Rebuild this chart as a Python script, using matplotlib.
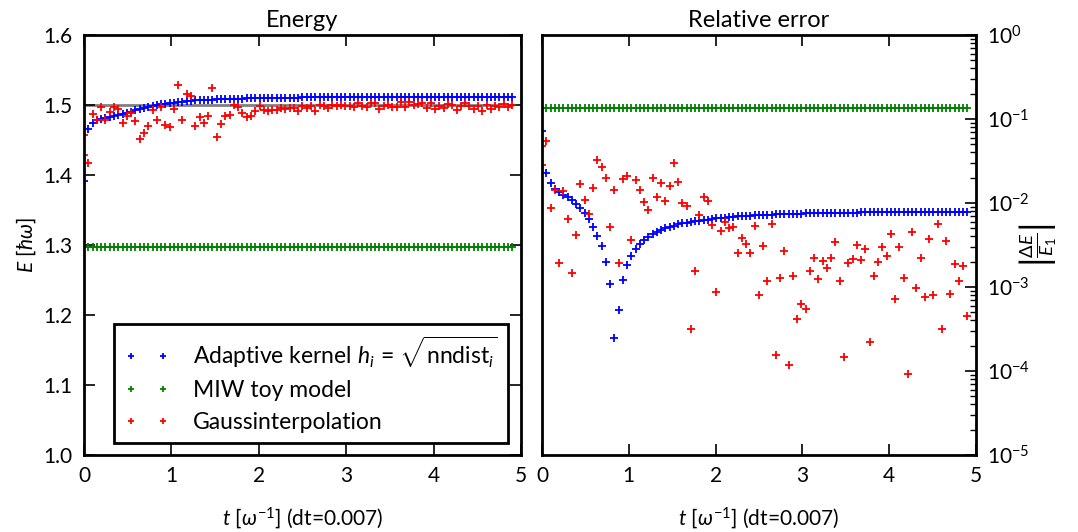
import numpy as np
import matplotlib
matplotlib.use("Agg")
import matplotlib.pyplot as plt
from matplotlib.ticker import LogLocator, NullFormatter

plt.rcParams['font.family'] = ['Lato', 'DejaVu Sans']
plt.rcParams['mathtext.fontset'] = 'custom'
plt.rcParams['mathtext.rm'] = 'Lato'
plt.rcParams['mathtext.it'] = 'Lato:italic'
plt.rcParams['mathtext.bf'] = 'Lato:bold'

# time grid: dt = 0.007, every 7th step stored
DT = 0.007
STRIDE = 7
N = 101
t = np.arange(N) * DT * STRIDE

E_EXACT = 1.5

# adaptive kernel h_i = sqrt(nndist_i)
adaptive_energy = [
    1.3910, 1.4658, 1.4743, 1.4780, 1.4799, 1.4813, 1.4825, 1.4837, 1.4853, 1.4869,
    1.4887, 1.4904, 1.4922, 1.4939, 1.4954, 1.4970, 1.49835, 1.49963, 1.50080, 1.50183,
    1.50275, 1.50354, 1.50429, 1.50492, 1.50549, 1.50596, 1.50647, 1.50684, 1.50723, 1.50756,
    1.50785, 1.50806, 1.50836, 1.50860, 1.50875, 1.50891, 1.50908, 1.50924, 1.50933, 1.50951,
    1.50968, 1.50982, 1.50995, 1.51007, 1.51018, 1.51028, 1.51037, 1.51046, 1.51054, 1.51062,
    1.51069, 1.51076, 1.51082, 1.51088, 1.51094, 1.51099, 1.51104, 1.51109, 1.51113, 1.51117,
    1.51121, 1.51125, 1.51128, 1.51131, 1.51134, 1.51137, 1.51140, 1.51142, 1.51144, 1.51146,
    1.51148, 1.51150, 1.51152, 1.51154, 1.51155, 1.51157, 1.51158, 1.51159, 1.51160, 1.51161,
    1.51162, 1.51163, 1.51164, 1.51165, 1.51166, 1.51166, 1.51167, 1.51168, 1.51168, 1.51169,
    1.51169, 1.51170, 1.51170, 1.51171, 1.51171, 1.51171, 1.51172, 1.51172, 1.51172, 1.51173,
    1.51173,
]

# MIW toy model
miw_energy = [
    1.297, 1.297, 1.297, 1.297, 1.297, 1.297, 1.297, 1.297, 1.297, 1.297,
    1.297, 1.297, 1.297, 1.297, 1.297, 1.297, 1.297, 1.297, 1.297, 1.297,
    1.297, 1.297, 1.297, 1.297, 1.297, 1.297, 1.297, 1.297, 1.297, 1.297,
    1.297, 1.297, 1.297, 1.297, 1.297, 1.297, 1.297, 1.297, 1.297, 1.297,
    1.297, 1.297, 1.297, 1.297, 1.297, 1.297, 1.297, 1.297, 1.297, 1.297,
    1.297, 1.297, 1.297, 1.297, 1.297, 1.297, 1.297, 1.297, 1.297, 1.297,
    1.297, 1.297, 1.297, 1.297, 1.297, 1.297, 1.297, 1.297, 1.297, 1.297,
    1.297, 1.297, 1.297, 1.297, 1.297, 1.297, 1.297, 1.297, 1.297, 1.297,
    1.297, 1.297, 1.297, 1.297, 1.297, 1.297, 1.297, 1.297, 1.297, 1.297,
    1.297, 1.297, 1.297, 1.297, 1.297, 1.297, 1.297, 1.297, 1.297, 1.297,
    1.297,
]

# Gaussinterpolation (two samples stored at t = 0)
gauss_t = np.concatenate([[0.0], t])
gauss_energy = [
    1.4575, 1.4280, 1.4172, 1.48681, 1.47857, 1.49713, 1.47915, 1.4904, 1.49778, 1.49382,
    1.4745, 1.48386, 1.4889, 1.47714, 1.4517, 1.45935, 1.47021, 1.49223, 1.47876, 1.49708,
    1.47129, 1.46888, 1.49456, 1.52793, 1.47876, 1.51529, 1.51248, 1.47021, 1.48233, 1.47381,
    1.4840, 1.5241, 1.4547, 1.47333, 1.48487, 1.48632, 1.499526, 1.497675, 1.48911, 1.48245,
    1.4840, 1.4918, 1.498703, 1.49302, 1.49116, 1.49244, 1.4923, 1.496154, 1.49431, 1.495123,
    1.496223, 1.492018, 1.498794, 1.495342, 1.49825, 1.491565, 1.499768, 1.498081, 1.495972, 1.499822,
    1.497953, 1.49937, 1.499049, 1.499179, 1.497693, 1.50332, 1.49815, 1.496916, 1.502547, 1.503351,
    1.494894, 1.498233, 1.499782, 1.497129, 1.496793, 1.504788, 1.496887, 1.504247, 1.499668, 1.502047,
    1.502952, 1.495512, 1.503509, 1.493646, 1.49891, 1.49547, 1.501937, 1.499862, 1.493284, 1.498527,
    1.503351, 1.49887, 1.494414, 1.498794, 1.491487, 1.49953, 1.494702, 1.49876, 1.497155, 1.501784,
    1.497308, 1.499318,
]

series = [
    (t, adaptive_energy, 'b', r'Adaptive kernel $h_i\,=\,\sqrt{\mathrm{nndist}_i}$'),
    (t, miw_energy, 'g', 'MIW toy model'),
    (gauss_t, gauss_energy, 'r', 'Gaussinterpolation'),
]

fig = plt.figure(figsize=(10.78, 5.32), dpi=100)
ax1 = fig.add_axes([0.0779, 0.1447, 0.4054, 0.7895])
ax2 = fig.add_axes([0.5028, 0.1447, 0.4026, 0.7895])

ax1.plot(t, np.full(N, E_EXACT), color='gray', lw=2, zorder=1)
for tt, energy, col, lab in series:
    energy = np.asarray(energy)
    ax1.plot(tt, energy, '+', color=col, ms=5.5, mew=1.3, label=lab, zorder=2)
    rel = np.abs(energy - E_EXACT) / E_EXACT
    ax2.semilogy(tt, rel, '+', color=col, ms=5.5, mew=1.3)

ax1.set_xlim(0, 5)
ax1.set_ylim(1.0, 1.6)
ax1.set_yticks(np.arange(1.0, 1.61, 0.1))
ax1.set_yticklabels(['%.1f' % v for v in np.arange(1.0, 1.61, 0.1)])
ax1.set_title('Energy', fontsize=17, pad=6)
ax1.set_xlabel(r'$t\ [\omega^{-1}]$ (dt=0.007)', fontsize=15, labelpad=14)
ax1.set_ylabel(r'$E\ [\hbar\omega]$', fontsize=15, labelpad=4)
ax1.tick_params(direction='in', top=True, right=True, length=8, width=1.2, pad=8)

ax2.set_xlim(0, 5)
ax2.set_ylim(1e-5, 1)
ax2.yaxis.tick_right()
ax2.yaxis.set_label_position('right')
ax2.yaxis.set_major_locator(LogLocator(base=10, numticks=10))
ax2.yaxis.set_minor_locator(LogLocator(base=10, subs=np.arange(2, 10), numticks=10))
ax2.yaxis.set_minor_formatter(NullFormatter())
ax2.set_title('Relative error', fontsize=17, pad=6)
ax2.set_xlabel(r'$t\ [\omega^{-1}]$ (dt=0.007)', fontsize=15, labelpad=14)
ax2.set_ylabel(r'$\left|\frac{\Delta E}{E_1}\right|$', fontsize=19, rotation=90)
ax2.yaxis.set_label_coords(1.095, 0.5)
ax2.tick_params(which='major', direction='in', top=True, left=False, right=True,
                length=8, width=1.2, pad=8)
ax2.tick_params(which='minor', direction='in', left=False, right=True, length=4, width=1)

for ax in (ax1, ax2):
    ax.set_xticks([0, 1, 2, 3, 4, 5])
    for side in ax.spines.values():
        side.set_linewidth(2)
    for lbl in ax.get_xticklabels() + ax.get_yticklabels():
        lbl.set_fontsize(15)

leg = ax1.legend(loc='lower right', bbox_to_anchor=(0.97, 0.029), borderaxespad=0,
                 numpoints=2, fancybox=False, fontsize=16.5, markerscale=0.75,
                 handlelength=2.0, handletextpad=1.0, labelspacing=0.45, borderpad=0.45)
leg.get_frame().set_edgecolor('black')
leg.get_frame().set_linewidth(2)
leg.get_frame().set_alpha(1)

fig.savefig('out.png', dpi=100)
